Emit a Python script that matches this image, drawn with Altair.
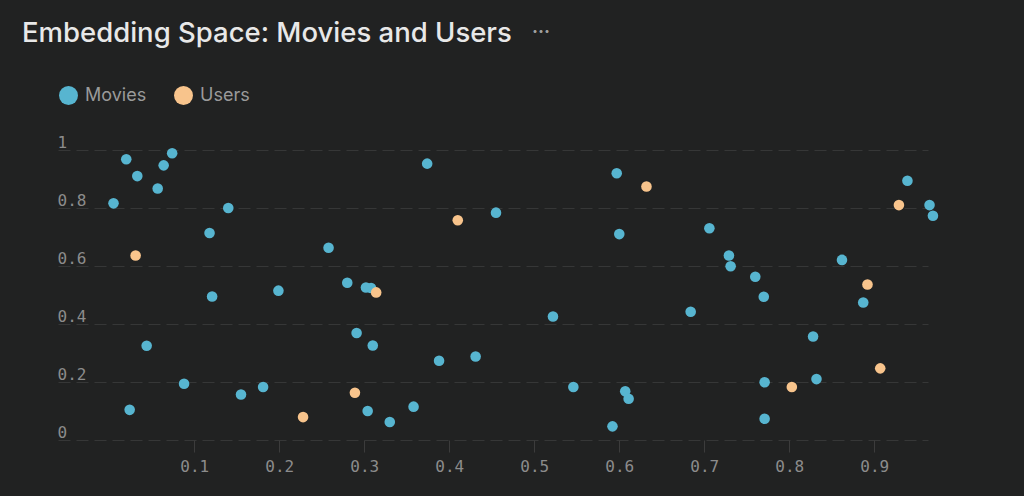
import altair as alt
import pandas as pd

# ---- data ----
categories = ["Movies", "Users"]
colors = ["#57b5d0", "#f8c48c"]

movie_x = [0.020, 0.074, 0.064, 0.033, 0.057, 0.005, 0.140, 0.118, 0.258, 0.121,
           0.199, 0.044, 0.088, 0.181, 0.155, 0.024, 0.374, 0.597, 0.455, 0.600,
           0.280, 0.302, 0.308, 0.522, 0.291, 0.310, 0.388, 0.431, 0.546, 0.607,
           0.611, 0.304, 0.358, 0.330, 0.592, 0.939, 0.965, 0.969, 0.706, 0.729,
           0.731, 0.760, 0.770, 0.862, 0.887, 0.684, 0.828, 0.771, 0.832, 0.771]
movie_y = [0.968, 0.989, 0.947, 0.910, 0.867, 0.816, 0.800, 0.714, 0.663, 0.495,
           0.515, 0.325, 0.194, 0.183, 0.157, 0.104, 0.953, 0.920, 0.784, 0.710,
           0.542, 0.526, 0.524, 0.426, 0.369, 0.326, 0.273, 0.288, 0.183, 0.168,
           0.142, 0.100, 0.115, 0.062, 0.047, 0.894, 0.810, 0.773, 0.730, 0.636,
           0.599, 0.563, 0.494, 0.621, 0.474, 0.442, 0.357, 0.199, 0.210, 0.073]

user_x = [0.031, 0.228, 0.632, 0.410, 0.314, 0.289, 0.929, 0.892, 0.803, 0.907]
user_y = [0.636, 0.079, 0.874, 0.758, 0.509, 0.163, 0.810, 0.536, 0.183, 0.247]

x_ticks = [0.1, 0.2, 0.3, 0.4, 0.5, 0.6, 0.7, 0.8, 0.9]
y_ticks = [0, 0.2, 0.4, 0.6, 0.8, 1]

df = pd.concat([
    pd.DataFrame({"x": movie_x, "y": movie_y, "group": categories[0]}),
    pd.DataFrame({"x": user_x, "y": user_y, "group": categories[1]}),
], ignore_index=True)

BG = "#212222"

points = alt.Chart(df).mark_circle(size=112, opacity=1).encode(
    x=alt.X("x:Q",
            scale=alt.Scale(domain=[-0.0603, 0.9632], nice=False, zero=False),
            axis=alt.Axis(values=x_ticks, format=".1f", grid=False, domain=False,
                          ticks=True, tickSize=12, tickColor="#3c3c3c",
                          labelColor="#8c8c8c", labelFont="DejaVu Sans Mono",
                          labelFontSize=16, labelPadding=6, title=None)),
    y=alt.Y("y:Q",
            scale=alt.Scale(domain=[0, 1], nice=False),
            axis=alt.Axis(values=y_ticks, format="~g", grid=True, gridDash=[12, 6],
                          gridColor="#363737", gridWidth=1, domain=False,
                          ticks=False, tickSize=0, labelAlign="left",
                          labelBaseline="alphabetic", labelOffset=-3,
                          labelPadding=1, labelColor="#8c8c8c",
                          labelFont="DejaVu Sans Mono", labelFontSize=16,
                          title=None)),
    color=alt.Color("group:N",
                    scale=alt.Scale(domain=categories, range=colors),
                    legend=alt.Legend(orient="none", legendX=1, legendY=-64,
                                      direction="horizontal", title=None,
                                      symbolType="circle", symbolSize=360,
                                      symbolStrokeWidth=0, labelFont="Inter",
                                      labelFontSize=18, labelColor="#9a9a9a",
                                      labelOffset=7, columnPadding=27)),
    order=alt.Order("group:N"),
)

menu = alt.Chart(pd.DataFrame({"t": ["···"]})).mark_text(
    font="Inter", fontSize=18, fontWeight="bold", color="#a0a0a0", align="center",
    baseline="middle",
).encode(x=alt.value(483), y=alt.value(-117), text="t:N")

chart = alt.layer(points, menu).properties(
    width=870,
    height=290,
    background=BG,
    padding={"left": 50, "top": 142, "right": 80, "bottom": 40},
    autosize=alt.AutoSizeParams(type="none"),
    title=alt.TitleParams("Embedding Space: Movies and Users", anchor="start",
                          frame="group", font="Inter", fontSize=27.5,
                          fontWeight=500, color="#e8e8e8", dx=-36, dy=27),
).configure_view(stroke=None)

chart.save("out.html", embed_options={
    "renderer": "svg",
    "actions": False,
    "defaultStyle": "html, body { background-color: #212222; }",
})
